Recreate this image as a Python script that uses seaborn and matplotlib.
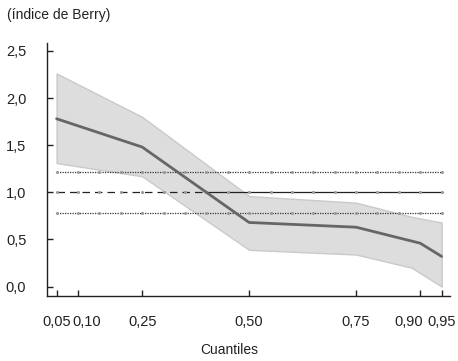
import numpy as np
import pandas as pd
import seaborn as sns
import matplotlib.pyplot as plt
import matplotlib.transforms as mtransforms

# quantiles and Berry index estimate
cuantiles = [0.05, 0.25, 0.50, 0.75, 0.90, 0.95]
berry = [1.78, 1.48, 0.68, 0.63, 0.46, 0.32]

# confidence band
band_x = [0.05, 0.25, 0.50, 0.75, 0.88, 0.95]
band_hi = [2.26, 1.80, 0.96, 0.89, 0.74, 0.68]
band_lo = [1.31, 1.17, 0.39, 0.34, 0.20, 0.00]

# reference lines (1 and OLS interval)
ref_line = 1.0
ref_switch = 0.40
ols_hi = 1.22
ols_lo = 0.78
grid_q = [0.05, 0.10, 0.15, 0.20, 0.25, 0.30, 0.35, 0.40, 0.45, 0.50,
          0.55, 0.60, 0.65, 0.70, 0.75, 0.80, 0.85, 0.90, 0.95]

xticks = [0.05, 0.10, 0.25, 0.50, 0.75, 0.90, 0.95]
xlabels = ["0,05", "0,10", "0,25", "0,50", "0,75", "0,90", "0,95"]
yticks = [0.0, 0.5, 1.0, 1.5, 2.0, 2.5]
ylabels = ["0,0", "0,5", "1,0", "1,5", "2,0", "2,5"]

sns.set_style("ticks")
plt.rcParams["font.family"] = ["Liberation Sans", "DejaVu Sans"]

df = pd.DataFrame({"q": cuantiles, "b": berry})

fig = plt.figure(figsize=(4.58, 3.61), dpi=100)
ax = fig.add_axes([0.103, 0.18, 0.88, 0.70])

ax.fill_between(band_x, band_lo, band_hi, facecolor="#dddddd", edgecolor="#cacaca", linewidth=1, zorder=1)

# line at 1: dashed then solid
ax.hlines(ref_line, 0.05, ref_switch, colors="#222222", linestyles=(0, (6, 4)), linewidth=0.9, zorder=2)
ax.hlines(ref_line, ref_switch, 0.95, colors="#222222", linestyles="-", linewidth=0.9, zorder=2)
ax.hlines([ols_hi, ols_lo], 0.05, 0.95, colors="#333333", linestyles=(0, (1, 1)), linewidth=0.9, zorder=2)
for yv in [ols_hi, ref_line, ols_lo]:
    ax.plot(grid_q, [yv] * len(grid_q), linestyle="none", marker="o", markersize=1.2,
            color="#999999", zorder=2)

sns.lineplot(data=df, x="q", y="b", color="#666666", linewidth=2, ax=ax, zorder=3)

ax.set_xlim(0.028, 0.97)
ax.set_ylim(-0.1, 2.58)
ax.set_xticks(xticks)
ax.set_xticklabels(xlabels)
ax.set_yticks(yticks)
ax.set_yticklabels(ylabels)
ax.tick_params(direction="in", length=4, width=1, labelsize=10.5, colors="#222222")
ax.tick_params(axis="x", pad=14)
ax.tick_params(axis="y", pad=15)
sns.despine(ax=ax)
for s in ["left", "bottom"]:
    ax.spines[s].set_linewidth(1)
    ax.spines[s].set_color("#222222")
ax.set_xlabel("")
ax.set_ylabel("")

# nudge crowded tick labels apart
shifts = {"0,10": 9, "0,90": -12}
for lab in ax.get_xticklabels():
    dx = shifts.get(lab.get_text(), 0)
    if dx:
        lab.set_transform(lab.get_transform() + mtransforms.ScaledTranslation(dx / 100, 0, fig.dpi_scale_trans))

fig.text(0.5, 0.03, "Cuantiles", ha="center", va="center", fontsize=10, color="#222222")
fig.text(0.015, 0.958, "(índice de Berry)", ha="left", va="center", fontsize=10, color="#222222")

fig.savefig("out.png", dpi=100)
